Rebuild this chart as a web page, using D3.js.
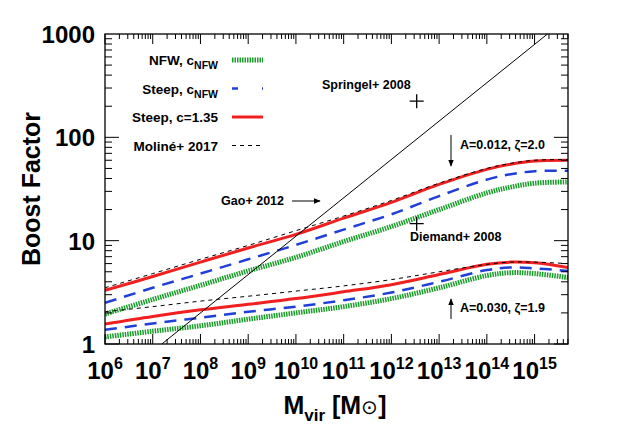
<!DOCTYPE html>
<html><head><meta charset="utf-8">
<script src="https://cdn.jsdelivr.net/npm/d3@7"></script>
<style>body{margin:0;background:#fff}text{font-family:"Liberation Sans",Arial,sans-serif;font-weight:bold}</style>
</head><body><svg id="c" width="627" height="439"></svg>
<script>
// log10(M) sample points
var logM = [6, 7, 8, 9, 10, 11, 12, 13, 14, 14.5, 15, 15.7];
// A=0.012, zeta=2.0
var redHi   = [3.3, 4.5, 6.2, 8.5, 11.5, 16.5, 23.5, 35, 49, 55, 59, 60];
var blueHi  = [2.5, 3.5, 4.8, 6.6, 9.1, 12.8, 18, 27, 39, 44, 47, 47.5];
var greenHi = [1.95, 2.7, 3.7, 5.1, 6.9, 9.8, 13.7, 20, 29, 33, 36, 37];
var blackHi = [3.5, 4.8, 6.6, 9.0, 12.5, 17.3, 24.5, 36, 50, 56, 60, 61];
// A=0.030, zeta=1.9
var redLo   = [1.56, 1.85, 2.14, 2.42, 2.75, 3.2, 3.75, 4.7, 5.9, 6.2, 6.1, 5.5];
var blueLo  = [1.37, 1.58, 1.8, 2.05, 2.3, 2.65, 3.15, 4.0, 5.2, 5.5, 5.4, 5.1];
var greenLo = [1.17, 1.33, 1.5, 1.74, 2.0, 2.3, 2.75, 3.5, 4.6, 4.9, 4.8, 4.4];
var blackLo = [2.05, 2.3, 2.6, 2.9, 3.25, 3.65, 4.2, 5.0, 5.9, 6.2, 6.2, 6.0];
var diagLogM = [7.19, 15.27], diagB = [1, 1000];
var xTicks = [6,7,8,9,10,11,12,13,14,15];
var yTicks = [1,10,100,1000];

var svg = d3.select("#c");
var L = 105, R = 568, T = 34, B = 344;
var x = d3.scaleLinear().domain([6, 15.7]).range([L, R]);
var y = d3.scaleLog().domain([1, 1000]).range([B, T]);
var g = svg.append("g");
g.append("clipPath").attr("id","cp").append("rect").attr("x",L).attr("y",T-1).attr("width",R-L).attr("height",B-T+1);
var plot = g.append("g").attr("clip-path","url(#cp)");

var line = d3.line().x(d => x(d[0])).y(d => y(d[1])).curve(d3.curveCatmullRom.alpha(0.5));
function draw(vals, col, w, dash) {
  plot.append("path").datum(logM.map((m,i)=>[m, vals[i]]))
    .attr("d", line).attr("fill","none").attr("stroke",col).attr("stroke-width",w)
    .attr("stroke-dasharray", dash);
}
[greenHi,greenLo].forEach(v=>draw(v,"#1a9e2a",5,"1.5 1"));
[blueHi,blueLo].forEach(v=>draw(v,"#1f3fd6",2.5,"12 8"));
[redHi,redLo].forEach(v=>draw(v,"#f02020",3,null));
[blackHi,blackLo].forEach(v=>draw(v,"#000",1,"4 4"));
plot.append("line").attr("x1",x(diagLogM[0])).attr("y1",y(diagB[0])).attr("x2",x(diagLogM[1])).attr("y2",y(diagB[1]))
  .attr("stroke","#000").attr("stroke-width",1);

// frame and ticks
g.append("rect").attr("x",L).attr("y",T).attr("width",R-L).attr("height",B-T).attr("fill","none").attr("stroke","#000").attr("stroke-width",1.3);
var xMinor = [];
for (var d = 6; d < 16; d++) for (var k = 1; k < 10; k++) { var v = d + Math.log10(k); if (v <= 15.7) xMinor.push([v, k===1]); }
xMinor.forEach(function(t){
  var len = t[1] ? 10 : 5;
  g.append("line").attr("x1",x(t[0])).attr("x2",x(t[0])).attr("y1",B).attr("y2",B-len).attr("stroke","#000");
  g.append("line").attr("x1",x(t[0])).attr("x2",x(t[0])).attr("y1",T).attr("y2",T+len).attr("stroke","#000");
});
for (var d = 0; d < 3; d++) for (var k = 1; k < 10; k++) {
  var v = Math.pow(10,d)*k, len = k===1 ? 14 : 7;
  g.append("line").attr("x1",L).attr("x2",L+len).attr("y1",y(v)).attr("y2",y(v)).attr("stroke","#000");
  g.append("line").attr("x1",R).attr("x2",R-len).attr("y1",y(v)).attr("y2",y(v)).attr("stroke","#000");
}
xTicks.forEach(function(e){
  var t = g.append("text").attr("x",x(e)).attr("y",B+35).attr("text-anchor","middle").attr("font-size",24);
  t.append("tspan").text("10");
  t.append("tspan").attr("dy",-10).attr("font-size",16).text(e);
});
yTicks.forEach(function(v){
  g.append("text").attr("x",L-10).attr("y",y(v)+9).attr("text-anchor","end").attr("font-size",24).text(v);
});
var xl = g.append("text").attr("x",335).attr("y",414).attr("text-anchor","middle").attr("font-size",25);
xl.append("tspan").text("M");
xl.append("tspan").attr("dy",7).attr("font-size",17).text("vir");
xl.append("tspan").attr("dy",-7).text(" [M");
xl.append("tspan").attr("font-weight","normal").attr("font-size",20).text("\u2299");
xl.append("tspan").text("]");
g.append("text").attr("transform","translate(40,189) rotate(-90)").attr("text-anchor","middle").attr("font-size",25).text("Boost Factor");

// legend
var leg = [["NFW, c","NFW","#1a9e2a",5,"1.5 1"],["Steep, c","NFW","#1f3fd6",2.5,"6 24"],["Steep, c=1.35","","#f02020",3,null],["Molin\u00e9+ 2017","","#000",1,"4 4"]];
leg.forEach(function(l,i){
  var yy = 60 + i*28.5;
  var t = g.append("text").attr("x",218).attr("y",yy+5).attr("text-anchor","end").attr("font-size",13.5);
  t.append("tspan").text(l[0]);
  if (l[1]) t.append("tspan").attr("dy",4).attr("font-size",10.5).text(l[1]);
  g.append("line").attr("x1",232).attr("x2",263).attr("y1",yy).attr("y2",yy).attr("stroke",l[2]).attr("stroke-width",l[3]).attr("stroke-dasharray",l[4]);
});

// annotations
svg.append("defs").append("marker").attr("id","ar").attr("viewBox","0 0 10 10").attr("refX",9).attr("refY",5)
  .attr("markerWidth",7).attr("markerHeight",7).attr("orient","auto").append("path").attr("d","M0,1L10,5L0,9z").attr("fill","#000");
function arrow(x1,y1,x2,y2){ g.append("line").attr("x1",x1).attr("y1",y1).attr("x2",x2).attr("y2",y2).attr("stroke","#000").attr("marker-end","url(#ar)"); }
function cross(m,b){ var cx=x(m), cy=y(b);
  g.append("path").attr("d",`M${cx-7},${cy}H${cx+7}M${cx},${cy-7}V${cy+7}`).attr("stroke","#000").attr("stroke-width",1.3); }
cross(12.53, 224); cross(12.53, 14.6);
g.append("text").attr("x",322).attr("y",89).attr("font-size",12.5).text("Springel+ 2008");
g.append("text").attr("x",410).attr("y",241).attr("font-size",12.5).text("Diemand+ 2008");
g.append("text").attr("x",284).attr("y",205).attr("text-anchor","end").attr("font-size",12.5).text("Gao+ 2012");
arrow(292,201,320,201);
arrow(451,135,451,166);
g.append("text").attr("x",460).attr("y",149).attr("font-size",12.5).text("A=0.012, \u03b6=2.0");
arrow(451,319,451,299);
g.append("text").attr("x",460).attr("y",312).attr("font-size",12.5).text("A=0.030, \u03b6=1.9");
</script></body></html>
